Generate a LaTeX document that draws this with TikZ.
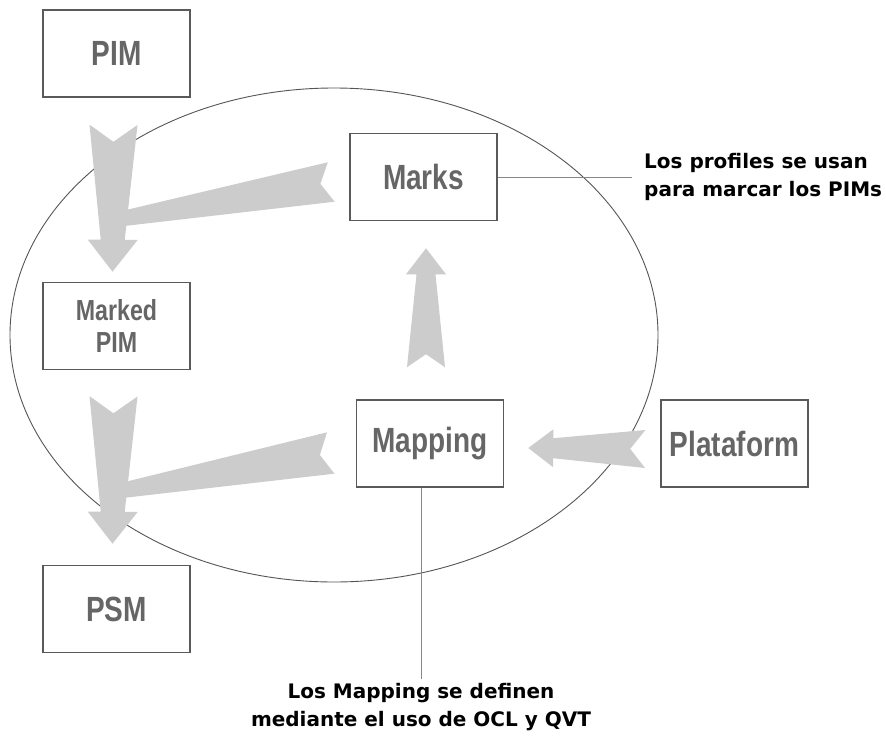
\documentclass[tikz,border=0pt]{standalone}
\usepackage{fontspec}
\usepackage{xcolor}
\usepackage{tikz}
\usetikzlibrary{calc, positioning}
\newfontfamily\boxfont{Liberation Sans}[FakeStretch=0.8]
\newfontfamily\notefont{DejaVu Sans}
\definecolor{boxgray}{RGB}{90,90,90}
\definecolor{txtgray}{RGB}{102,102,102}
\definecolor{arrowgray}{RGB}{204,204,204}
\definecolor{ellgray}{RGB}{85,85,85}
\definecolor{linegray}{RGB}{135,135,135}
\tikzset{
  box/.style={rectangle, draw=boxgray, fill=white, line width=1.6pt,
    minimum width=147pt, minimum height=87pt, inner sep=0pt, text=txtgray,
    font=\boxfont\bfseries\fontsize{35}{35}\selectfont},
  smallbox/.style={box, align=center,
    font=\boxfont\bfseries\fontsize{29}{32}\selectfont},
  bigarrow/.style={fill=arrowgray},
  noteline/.style={draw=linegray, line width=1pt},
  note/.style={inner sep=0pt, text=black,
    font=\notefont\bfseries\fontsize{20}{28.5}\selectfont}
}
% tail, tip, tail half width, notch, neck half width, head half width, head length
\newcommand{\fatarrow}[7]{%
  \fill[bigarrow] ($(#1)!#3!90:(#2)$) -- ($(#1)!#4!(#2)$) -- ($(#1)!#3!-90:(#2)$)
    -- ($(#2)!#7!(#1)!#5!90:(#1)$) -- ($(#2)!#7!(#1)!#6!90:(#1)$) -- (#2)
    -- ($(#2)!#7!(#1)!#6!-90:(#1)$) -- ($(#2)!#7!(#1)!#5!-90:(#1)$) -- cycle;
}
% tail, end, tail half width, notch, end half width
\newcommand{\taperarrow}[5]{%
  \fill[bigarrow] ($(#1)!#3!90:(#2)$) -- ($(#1)!#4!(#2)$) -- ($(#1)!#3!-90:(#2)$)
    -- ($(#2)!#5!90:(#1)$) -- ($(#2)!#5!-90:(#1)$) -- cycle;
}

\begin{document}
\begin{tikzpicture}[x=1pt, y=-1pt]
  \fill[white] (0,0) rectangle (886,736);
  \useasboundingbox (0,0) rectangle (886,736);

  % Ellipse
  \draw[ellgray, line width=0.9pt] (334,335) ellipse [x radius=324pt, y radius=247pt];

  % Nodes
  \node[box] (pim) at (116.5,53.5) {PIM};
  \node[smallbox] (mpim) at (116.5,326) {Marked\\PIM};
  \node[box] (psm) at (116.5,609) {PSM};
  \node[box] (marks) at (423.5,177) {Marks};
  \node[box] (mapping) at (430,443.5) {Mapping};
  \node[box] (plat) at (734.5,443.5) {Plataform};

  \node[note, anchor=west, align=left] (profnote) at (644,177)
    {Los profiles se usan\\para marcar los PIMs};
  \node[note, anchor=north, align=center] (mapnote) at (421,683)
    {Los Mapping se definen\\mediante el uso de OCL y QVT};

  % Arrow ends
  \coordinate (a1t) at ($(pim.south)+(-3,27)$);
  \coordinate (a1h) at ($(mpim.north)+(-4,-10)$);
  \coordinate (a2t) at ($(mpim.south)+(-3,26)$);
  \coordinate (a2h) at ($(psm.north)+(-4,-21)$);
  \coordinate (b1t) at ($(marks.west)+(-18,5)$);
  \coordinate (b2t) at ($(mapping.west)+(-25,9.5)$);
  \coordinate (upt) at ($(mapping.north)+(-4,-32)$);
  \coordinate (uph) at ($(marks.south)+(2.5,27)$);
  \coordinate (plt) at ($(plat.west)+(-15,5.5)$);
  \coordinate (plh) at ($(mapping.east)+(24,4.5)$);

  % Connections
  \taperarrow{b1t}{$(a1t)!0.65!(a1h)$}{20pt}{11pt}{7pt}
  \taperarrow{b2t}{$(a2t)!0.65!(a2h)$}{21pt}{11pt}{7pt}
  \fatarrow{a1t}{a1h}{24pt}{17pt}{12pt}{25pt}{32pt}
  \fatarrow{a2t}{a2h}{24pt}{17pt}{12pt}{25pt}{32pt}
  \fatarrow{upt}{uph}{19pt}{13pt}{9.5pt}{20pt}{26pt}
  \fatarrow{plt}{plh}{19pt}{15pt}{10pt}{19pt}{25pt}

  % Notes
  \draw[noteline, shorten >=12pt] (marks.east) -- (profnote.west);
  \draw[noteline] (mapping.south -| mapnote.north) -- ($(mapnote.north)+(0,-4)$);
\end{tikzpicture}
\end{document}
